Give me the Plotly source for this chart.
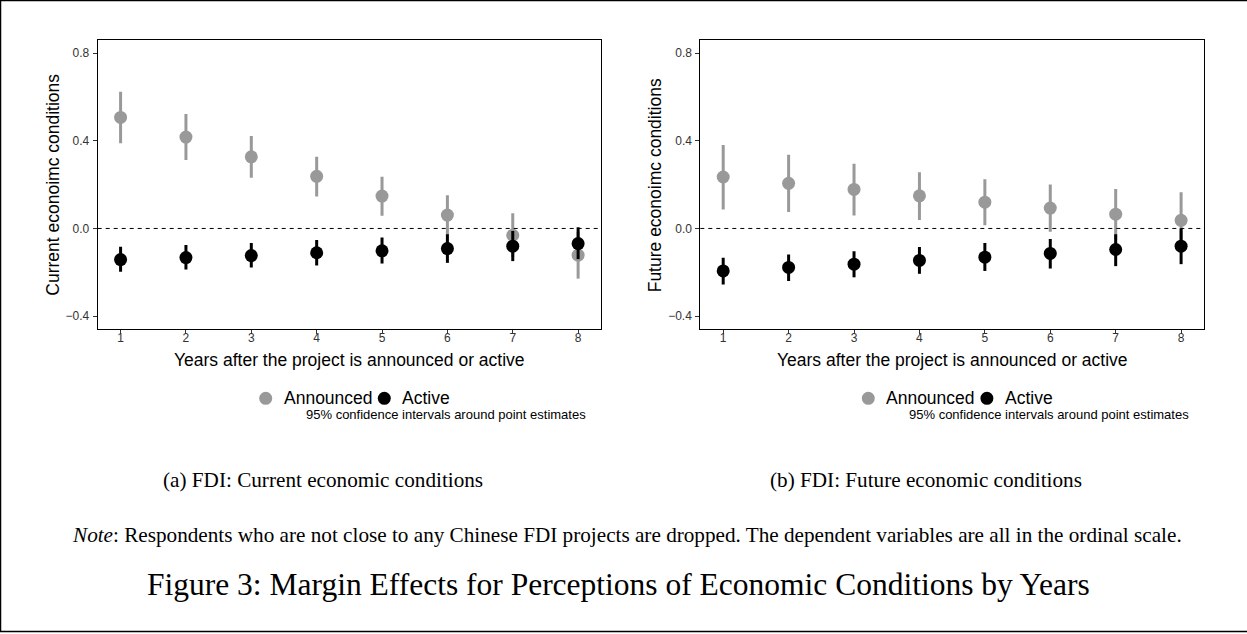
import plotly.graph_objects as go

# ---------------- data ----------------
years = [1, 2, 3, 4, 5, 6, 7, 8]

cur_ann = [0.507, 0.417, 0.327, 0.238, 0.148, 0.061, -0.031, -0.122]
cur_ann_lo = [0.389, 0.312, 0.231, 0.146, 0.058, -0.030, -0.130, -0.229]
cur_ann_hi = [0.624, 0.522, 0.422, 0.327, 0.236, 0.152, 0.069, -0.015]
cur_act = [-0.142, -0.133, -0.124, -0.111, -0.102, -0.092, -0.081, -0.069]
cur_act_lo = [-0.198, -0.187, -0.178, -0.169, -0.160, -0.157, -0.149, -0.140]
cur_act_hi = [-0.084, -0.076, -0.066, -0.053, -0.041, -0.026, -0.012, 0.005]

fut_ann = [0.235, 0.206, 0.178, 0.149, 0.120, 0.093, 0.065, 0.037]
fut_ann_lo = [0.087, 0.075, 0.059, 0.039, 0.015, -0.015, -0.050, -0.090]
fut_ann_hi = [0.381, 0.337, 0.295, 0.257, 0.225, 0.201, 0.180, 0.165]
fut_act = [-0.194, -0.178, -0.163, -0.146, -0.131, -0.114, -0.096, -0.081]
fut_act_lo = [-0.256, -0.240, -0.223, -0.207, -0.194, -0.183, -0.172, -0.163]
fut_act_hi = [-0.134, -0.119, -0.104, -0.085, -0.066, -0.048, -0.026, 0.000]

y_tickvals = [-0.4, 0.0, 0.4, 0.8]
y_ticktext = ["\u22120.4", "0.0", "0.4", "0.8"]
x_tickvals = years
x_ticktext = [str(v) for v in years]

series_names = ["Announced", "Active"]
series_colors = ["#999999", "#000000"]

ytitles = ["Current econoimc conditions", "Future econoimc conditions"]
xtitle = "Years after the project is announced or active"
ci_note = "95% confidence intervals around point estimates"
subcaps = ["(a) FDI: Current economic conditions", "(b) FDI: Future economic conditions"]
note_text = ("<i>Note</i>: Respondents who are not close to any Chinese FDI projects are dropped. "
             "The dependent variables are all in the ordinal scale.")
fig_title = "Figure 3: Margin Effects for Perceptions of Economic Conditions by Years"

# ---------------- layout helpers ----------------
W, H = 1247, 634
SANS = "Liberation Sans, Arial, Helvetica, sans-serif"
SERIF = "Liberation Serif, Times New Roman, serif"


def px(x):
    return x / W


def py(y):
    return 1 - y / H


panels = [
    dict(x0=97.7, x1=601.0),
    dict(x0=700.3, x1=1204.0),
]
PY0, PY1 = 40.3, 329.0

fig = go.Figure()

panel_data = [
    [(cur_ann, cur_ann_lo, cur_ann_hi), (cur_act, cur_act_lo, cur_act_hi)],
    [(fut_ann, fut_ann_lo, fut_ann_hi), (fut_act, fut_act_lo, fut_act_hi)],
]

for i, pdata in enumerate(panel_data):
    xa = "x" if i == 0 else "x2"
    ya = "y" if i == 0 else "y2"
    for (vals, lo, hi), name, col in zip(pdata, series_names, series_colors):
        fig.add_trace(go.Scatter(
            x=years, y=vals, mode="markers", name=name, showlegend=False,
            xaxis=xa, yaxis=ya,
            marker=dict(color=col, size=13, line=dict(width=0)),
            error_y=dict(type="data", symmetric=False,
                         array=[h - v for h, v in zip(hi, vals)],
                         arrayminus=[v - l for v, l in zip(vals, lo)],
                         color=col, thickness=3, width=0),
        ))

axis_common = dict(
    showline=True, linecolor="black", linewidth=1, mirror=True,
    showgrid=False, zeroline=False, ticks="outside", ticklen=4,
    tickcolor="#333333", tickwidth=1,
    tickfont=dict(family=SANS, size=12, color="#333333"),
)

layout = dict(
    width=W, height=H,
    margin=dict(l=0, r=0, t=0, b=0),
    paper_bgcolor="white", plot_bgcolor="white",
    showlegend=False,
)
for i, p in enumerate(panels):
    sfx = "" if i == 0 else "2"
    layout["xaxis" + sfx] = dict(
        axis_common, domain=[px(p["x0"]), px(p["x1"])],
        range=[0.65, 8.35], tickvals=x_tickvals, ticktext=x_ticktext,
        anchor="y" + sfx, ticklabelstandoff=-6,
    )
    layout["yaxis" + sfx] = dict(
        axis_common, domain=[py(PY1), py(PY0)],
        range=[-0.459, 0.859], tickvals=y_tickvals, ticktext=y_ticktext,
        anchor="x" + sfx, ticklabelstandoff=1,
    )
fig.update_layout(**layout)

shapes = []
annotations = []
for i, p in enumerate(panels):
    sfx = "" if i == 0 else "2"
    # zero reference line
    shapes.append(dict(type="line", xref="x" + sfx + " domain", yref="y" + sfx,
                       x0=0, x1=1, y0=0, y1=0,
                       line=dict(color="black", width=1, dash="4px,4px")))
    cx = (p["x0"] + p["x1"]) / 2
    off = p["x0"] - panels[0]["x0"]
    # axis titles
    annotations.append(dict(text=ytitles[i], x=px(52.7 + off), y=py(185), xref="paper", yref="paper",
                            textangle=-90, showarrow=False, xanchor="center", yanchor="middle",
                            font=dict(family=SANS, size=17.5, color="black")))
    annotations.append(dict(text=xtitle, x=px(cx), y=py(360), xref="paper", yref="paper",
                            showarrow=False, xanchor="center", yanchor="middle",
                            font=dict(family=SANS, size=17.5, color="black")))
    # manual legend
    leg = [(265.7 + off, 281.7 + off, series_names[0], series_colors[0]),
           (384.3 + off, 400.0 + off, series_names[1], series_colors[1])]
    for ccx, tx, name, col in leg:
        r = 6.5
        shapes.append(dict(type="circle", xref="paper", yref="paper",
                           x0=px(ccx - r), x1=px(ccx + r), y0=py(398.3 + r), y1=py(398.3 - r),
                           fillcolor=col, line=dict(width=0)))
        annotations.append(dict(text=name, x=px(tx), y=py(398.3), xref="paper", yref="paper",
                                showarrow=False, xanchor="left", yanchor="middle",
                                font=dict(family=SANS, size=17.5, color="black")))
    annotations.append(dict(text=ci_note, x=px(588.3 + off), y=py(414), xref="paper", yref="paper",
                            showarrow=False, xanchor="right", yanchor="middle",
                            font=dict(family=SANS, size=13, color="black")))
    # sub captions
    annotations.append(dict(text=subcaps[i], x=px(323 + off), y=py(480), xref="paper", yref="paper",
                            showarrow=False, xanchor="center", yanchor="middle",
                            font=dict(family=SERIF, size=21.2, color="black")))

annotations.append(dict(text=note_text, x=px(70), y=py(535), xref="paper", yref="paper",
                        showarrow=False, xanchor="left", yanchor="middle",
                        font=dict(family=SERIF, size=21.2, color="black")))
annotations.append(dict(text=fig_title, x=px(145), y=py(584), xref="paper", yref="paper",
                        showarrow=False, xanchor="left", yanchor="middle",
                        font=dict(family=SERIF, size=31.5, color="black")))

# outer page border
shapes.append(dict(type="rect", xref="paper", yref="paper",
                   x0=px(0.6), x1=px(1260), y0=py(631.5), y1=py(0.6),
                   line=dict(color="black", width=1.3), fillcolor="rgba(0,0,0,0)"))

fig.update_layout(shapes=shapes, annotations=annotations)
fig.write_html("out.html")
